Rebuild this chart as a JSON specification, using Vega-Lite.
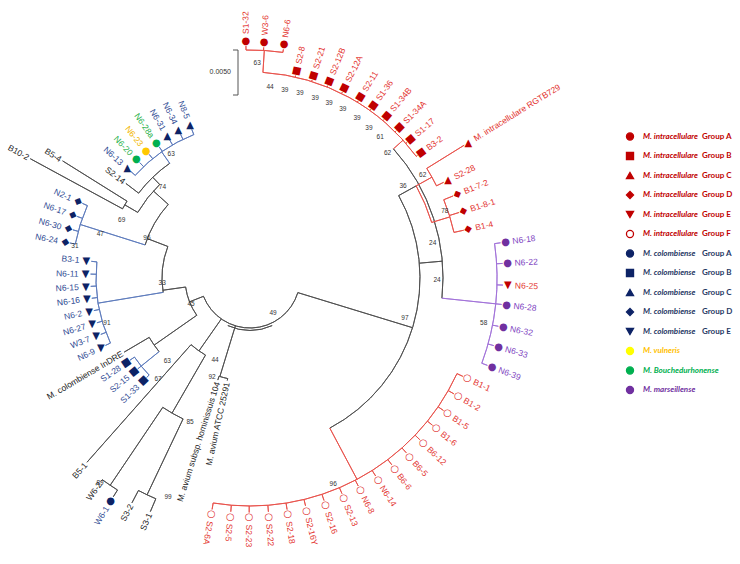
{
"$schema":"https://vega.github.io/schema/vega-lite/v6.json",
"width":740,"height":564,
"autosize":{"type":"none"},
"padding":0,
"background":"white",
"config":{"view":{"stroke":null}},
"datasets":{
"edges":[
{"t1":-1,"t2":8.3,"r1":228,"r2":228,"c":"red"},
{"t1":3.6,"t2":3.6,"r1":206,"r2":228,"c":"red"},
{"t1":3.6,"t2":53.8,"r1":206,"r2":206,"c":"red"},
{"t1":48,"t2":48,"r1":193,"r2":206,"c":"red"},
{"t1":48,"t2":96,"r1":193,"r2":193,"c":"k"},
{"t1":85,"t2":85,"r1":170,"r2":193,"c":"k"},
{"t1":96,"t2":96,"r1":193,"r2":247,"c":"purple"},
{"t1":82,"t2":110.2,"r1":247,"r2":247,"c":"purple"},
{"t1":61,"t2":152,"r1":170,"r2":170,"c":"k"},
{"t1":61,"t2":61,"r1":170,"r2":190,"c":"k"},
{"t1":61,"t2":73,"r1":190,"r2":190,"c":"red"},
{"t1":61,"t2":61,"r1":190,"r2":208,"c":"red"},
{"t1":58.2,"t2":63.7,"r1":208,"r2":208,"c":"red"},
{"t1":73,"t2":73,"r1":190,"r2":209,"c":"red"},
{"t1":68,"t2":77.4,"r1":209,"r2":209,"c":"red"},
{"t1":107,"t2":107,"r1":50,"r2":170,"c":"k"},
{"t1":152,"t2":152,"r1":170,"r2":228,"c":"red"},
{"t1":114.8,"t2":189.3,"r1":228,"r2":228,"c":"red"},
{"t1":107,"t2":248.5,"r1":50,"r2":50,"c":"k"},
{"t1":155,"t2":205,"r1":52.5,"r2":52.5,"c":"k"},
{"t1":197,"t2":197,"r1":50,"r2":103,"c":"k"},
{"t1":192.5,"t2":197.5,"r1":103,"r2":103,"c":"k"},
{"t1":215,"t2":215,"r1":50,"r2":89,"c":"k"},
{"t1":210,"t2":221.5,"r1":89,"r2":89,"c":"k"},
{"t1":210,"t2":210,"r1":89,"r2":156,"c":"k"},
{"t1":205.4,"t2":214,"r1":156,"r2":156,"c":"k"},
{"t1":205.4,"t2":205.4,"r1":156,"r2":240,"c":"k"},
{"t1":203.1,"t2":207.7,"r1":240,"r2":240,"c":"k"},
{"t1":214,"t2":214,"r1":156,"r2":250,"c":"k"},
{"t1":212,"t2":216.2,"r1":250,"r2":250,"c":"k"},
{"t1":248.5,"t2":248.5,"r1":50,"r2":65,"c":"k"},
{"t1":235,"t2":262,"r1":65,"r2":65,"c":"k"},
{"t1":235,"t2":235,"r1":65,"r2":117,"c":"k"},
{"t1":231,"t2":239.5,"r1":117,"r2":117,"c":"k"},
{"t1":231,"t2":231,"r1":117,"r2":140,"c":"blue"},
{"t1":226.1,"t2":235.6,"r1":140,"r2":140,"c":"blue"},
{"t1":262,"t2":262,"r1":65,"r2":88,"c":"k"},
{"t1":260.6,"t2":291,"r1":88,"r2":88,"c":"k"},
{"t1":260.6,"t2":260.6,"r1":88,"r2":154,"c":"blue"},
{"t1":245,"t2":276,"r1":154,"r2":154,"c":"blue"},
{"t1":291,"t2":291,"r1":88,"r2":110,"c":"k"},
{"t1":287.5,"t2":312,"r1":110,"r2":110,"c":"k"},
{"t1":287.5,"t2":287.5,"r1":110,"r2":178,"c":"blue"},
{"t1":281,"t2":294,"r1":178,"r2":178,"c":"blue"},
{"t1":312,"t2":312,"r1":110,"r2":130,"c":"k"},
{"t1":300.3,"t2":316,"r1":130,"r2":130,"c":"k"},
{"t1":300.3,"t2":300.3,"r1":130,"r2":145,"c":"k"},
{"t1":298.5,"t2":302,"r1":145,"r2":145,"c":"k"},
{"t1":316,"t2":316,"r1":130,"r2":140,"c":"k"},
{"t1":307.3,"t2":325,"r1":140,"r2":140,"c":"k"},
{"t1":325,"t2":325,"r1":140,"r2":154,"c":"blue"},
{"t1":311.8,"t2":338.6,"r1":154,"r2":154,"c":"blue"}
],
"tips":[
{"n":"S1-32","t":-1,"r":232,"pr":228,"sp":"intra","g":"iA","lc":"red"},
{"n":"W3-6","t":3.4,"r":231,"pr":228,"sp":"intra","g":"iA","lc":"red"},
{"n":"N6-6","t":8.3,"r":231,"pr":228,"sp":"intra","g":"iA","lc":"red"},
{"n":"S2-8","t":12.7,"r":207.5,"pr":206,"sp":"intra","g":"iB","lc":"red"},
{"n":"S2-21","t":17.4,"r":207.5,"pr":206,"sp":"intra","g":"iB","lc":"red"},
{"n":"S2-12B","t":22.0,"r":207.5,"pr":206,"sp":"intra","g":"iB","lc":"red"},
{"n":"S2-12A","t":26.4,"r":207.5,"pr":206,"sp":"intra","g":"iB","lc":"red"},
{"n":"S2-11","t":31.4,"r":207.5,"pr":206,"sp":"intra","g":"iB","lc":"red"},
{"n":"S1-36","t":35.6,"r":207.5,"pr":206,"sp":"intra","g":"iB","lc":"red"},
{"n":"S1-34B","t":40.2,"r":207.5,"pr":206,"sp":"intra","g":"iB","lc":"red"},
{"n":"S1-34A","t":44.8,"r":207.5,"pr":206,"sp":"intra","g":"iB","lc":"red"},
{"n":"S1-17","t":49.2,"r":207.5,"pr":206,"sp":"intra","g":"iB","lc":"red"},
{"n":"B3-2","t":53.8,"r":207.5,"pr":206,"sp":"intra","g":"iB","lc":"red"},
{"n":"M. intracellulare RGTB729","t":58.2,"r":252,"pr":208,"sp":"intra","g":"iC","lc":"red"},
{"n":"S2-28","t":63.7,"r":216,"pr":208,"sp":"intra","g":"iC","lc":"red"},
{"n":"B1-7-2","t":68.0,"r":219,"pr":209,"sp":"intra","g":"iD","lc":"red"},
{"n":"B1-8-1","t":72.6,"r":219,"pr":209,"sp":"intra","g":"iD","lc":"red"},
{"n":"B1-4","t":77.4,"r":219,"pr":209,"sp":"intra","g":"iD","lc":"red"},
{"n":"N6-18","t":82.0,"r":253,"pr":247,"sp":"mars","g":"mar","lc":"purple"},
{"n":"N6-22","t":86.7,"r":253,"pr":247,"sp":"mars","g":"mar","lc":"purple"},
{"n":"N6-25","t":91.6,"r":253,"pr":247,"sp":"intra","g":"iE","lc":"purple"},
{"n":"N6-28","t":96.0,"r":253,"pr":247,"sp":"mars","g":"mar","lc":"purple"},
{"n":"N6-32","t":101.0,"r":253,"pr":247,"sp":"mars","g":"mar","lc":"purple"},
{"n":"N6-33","t":105.5,"r":253,"pr":247,"sp":"mars","g":"mar","lc":"purple"},
{"n":"N6-39","t":110.2,"r":253,"pr":247,"sp":"mars","g":"mar","lc":"purple"},
{"n":"B1-1","t":114.8,"r":234.5,"pr":228,"sp":"intra","g":"iF","lc":"red"},
{"n":"B1-2","t":119.6,"r":234.5,"pr":228,"sp":"intra","g":"iF","lc":"red"},
{"n":"B1-5","t":124.4,"r":234.5,"pr":228,"sp":"intra","g":"iF","lc":"red"},
{"n":"B1-6","t":128.9,"r":234.5,"pr":228,"sp":"intra","g":"iF","lc":"red"},
{"n":"B6-12","t":133.6,"r":234.5,"pr":228,"sp":"intra","g":"iF","lc":"red"},
{"n":"B6-5","t":138.2,"r":234.5,"pr":228,"sp":"intra","g":"iF","lc":"red"},
{"n":"B6-6","t":142.8,"r":234.5,"pr":228,"sp":"intra","g":"iF","lc":"red"},
{"n":"N6-14","t":147.6,"r":234.5,"pr":228,"sp":"intra","g":"iF","lc":"red"},
{"n":"N6-8","t":152.5,"r":234.5,"pr":228,"sp":"intra","g":"iF","lc":"red"},
{"n":"S2-13","t":156.9,"r":234.5,"pr":228,"sp":"intra","g":"iF","lc":"red"},
{"n":"S2-16","t":161.6,"r":234.5,"pr":228,"sp":"intra","g":"iF","lc":"red"},
{"n":"S2-16Y","t":166.3,"r":234.5,"pr":228,"sp":"intra","g":"iF","lc":"red"},
{"n":"S2-18","t":170.9,"r":234.5,"pr":228,"sp":"intra","g":"iF","lc":"red"},
{"n":"S2-22","t":175.5,"r":234.5,"pr":228,"sp":"intra","g":"iF","lc":"red"},
{"n":"S2-23","t":180.2,"r":234.5,"pr":228,"sp":"intra","g":"iF","lc":"red"},
{"n":"S2-5","t":184.7,"r":234.5,"pr":228,"sp":"intra","g":"iF","lc":"red"},
{"n":"S2-6A","t":189.3,"r":234.5,"pr":228,"sp":"intra","g":"iF","lc":"red"},
{"n":"M. avium ATCC 25291","t":192.5,"r":105,"pr":103,"sp":"ref","g":"none","lc":"k"},
{"n":"M. avium subsp. hominissuis 104","t":197.5,"r":107,"pr":103,"sp":"ref","g":"none","lc":"k"},
{"n":"S3-1","t":203.1,"r":254,"pr":240,"sp":"ref","g":"none","lc":"k"},
{"n":"S3-2","t":207.7,"r":254,"pr":240,"sp":"ref","g":"none","lc":"k"},
{"n":"W6-1","t":212,"r":258,"pr":250,"sp":"colo","g":"cA","lc":"k"},
{"n":"W6-2","t":216.2,"r":252,"pr":250,"sp":"ref","g":"none","lc":"k"},
{"n":"B5-1","t":221.5,"r":246,"pr":89,"sp":"ref","g":"none","lc":"k"},
{"n":"S1-33","t":226.1,"r":143.5,"pr":140,"sp":"colo","g":"cB","lc":"blue"},
{"n":"S2-15","t":231.0,"r":144.5,"pr":140,"sp":"colo","g":"cB","lc":"blue"},
{"n":"S1-28","t":235.6,"r":145.5,"pr":140,"sp":"colo","g":"cB","lc":"blue"},
{"n":"M. colombiense InDRE","t":239.5,"r":146,"pr":117,"sp":"ref","g":"none","lc":"k"},
{"n":"N6-9","t":245.0,"r":159.5,"pr":154,"sp":"colo","g":"cE","lc":"blue"},
{"n":"W3-7","t":249.3,"r":159.5,"pr":154,"sp":"colo","g":"cE","lc":"blue"},
{"n":"N6-27","t":253.7,"r":159.5,"pr":154,"sp":"colo","g":"cE","lc":"blue"},
{"n":"N6-2","t":258.2,"r":159.5,"pr":154,"sp":"colo","g":"cE","lc":"blue"},
{"n":"N6-16","t":262.7,"r":159.5,"pr":154,"sp":"colo","g":"cE","lc":"blue"},
{"n":"N6-15","t":267.0,"r":159.5,"pr":154,"sp":"colo","g":"cE","lc":"blue"},
{"n":"N6-11","t":271.4,"r":159.5,"pr":154,"sp":"colo","g":"cE","lc":"blue"},
{"n":"B3-1","t":276.0,"r":159.5,"pr":154,"sp":"colo","g":"cE","lc":"blue"},
{"n":"N6-24","t":281.0,"r":183.5,"pr":178,"sp":"colo","g":"cD","lc":"blue"},
{"n":"N6-30","t":285.2,"r":183.5,"pr":178,"sp":"colo","g":"cD","lc":"blue"},
{"n":"N6-17","t":289.6,"r":183.5,"pr":178,"sp":"colo","g":"cD","lc":"blue"},
{"n":"N2-1","t":294.0,"r":183.5,"pr":178,"sp":"colo","g":"cD","lc":"blue"},
{"n":"B10-2","t":298.5,"r":250,"pr":145,"sp":"ref","g":"none","lc":"k"},
{"n":"B5-4","t":302,"r":221,"pr":145,"sp":"ref","g":"none","lc":"k"},
{"n":"S2-14","t":307.3,"r":156,"pr":140,"sp":"ref","g":"none","lc":"k"},
{"n":"N6-13","t":311.8,"r":159.5,"pr":154,"sp":"colo","g":"cC","lc":"blue"},
{"n":"N6-20","t":316.3,"r":159.5,"pr":154,"sp":"bou","g":"bou","lc":"blue"},
{"n":"N6-23","t":320.8,"r":159.5,"pr":154,"sp":"vul","g":"vul","lc":"blue"},
{"n":"N6-28a","t":325.3,"r":159.5,"pr":154,"sp":"bou","g":"bou","lc":"blue"},
{"n":"N6-31","t":329.8,"r":159.5,"pr":154,"sp":"colo","g":"cC","lc":"blue"},
{"n":"N6-34","t":334.2,"r":159.5,"pr":154,"sp":"colo","g":"cC","lc":"blue"},
{"n":"N8-5","t":338.6,"r":159.5,"pr":154,"sp":"colo","g":"cC","lc":"blue"}
],
"boot":[
{"v":"63","t":1.9,"r":215},{"v":"44","t":6,"r":192},{"v":"39","t":10.5,"r":191},{"v":"39","t":15.1,"r":191.5},
{"v":"39","t":19.9,"r":191.5},{"v":"39","t":24.3,"r":192},{"v":"39","t":28.8,"r":192.5},{"v":"39","t":33.8,"r":192.5},
{"v":"39","t":38.4,"r":191.5},{"v":"61","t":42.7,"r":192},{"v":"62","t":47.7,"r":186},{"v":"62","t":59.2,"r":201},
{"v":"36","t":59.0,"r":178.5},{"v":"78","t":71.0,"r":206},{"v":"24","t":79.2,"r":186},{"v":"24","t":90.6,"r":187},
{"v":"58","t":101,"r":238},{"v":"97","t":104.5,"r":160},{"v":"96","t":158,"r":222},{"v":"49","t":146.7,"r":42},
{"v":"99","t":200.5,"r":234},{"v":"85","t":202.6,"r":156},{"v":"44","t":203.1,"r":89},{"v":"92","t":201,"r":106},
{"v":"89","t":216.2,"r":254},{"v":"63","t":225,"r":117},{"v":"67","t":222.3,"r":136.6},{"v":"45","t":246.2,"r":64.5},
{"v":"33","t":266.7,"r":88},{"v":"91","t":252.5,"r":150},{"v":"96","t":291.2,"r":110.5},{"v":"47","t":286.3,"r":156},
{"v":"31","t":280.4,"r":178},{"v":"69","t":294.5,"r":141},{"v":"74","t":316,"r":126},
{"v":"63","t":327.6,"r":147}
],
"legend":[
{"k":0,"nm":"M. intracellulare","gp":"Group A","g":"iA"},
{"k":1,"nm":"M. intracellulare","gp":"Group B","g":"iB"},
{"k":2,"nm":"M. intracellulare","gp":"Group C","g":"iC"},
{"k":3,"nm":"M. intracellulare","gp":"Group D","g":"iD"},
{"k":4,"nm":"M. intracellulare","gp":"Group E","g":"iE"},
{"k":5,"nm":"M. intracellulare","gp":"Group F","g":"iF"},
{"k":6,"nm":"M. colombiense","gp":"Group A","g":"cA"},
{"k":7,"nm":"M. colombiense","gp":"Group B","g":"cB"},
{"k":8,"nm":"M. colombiense","gp":"Group C","g":"cC"},
{"k":9,"nm":"M. colombiense","gp":"Group D","g":"cD"},
{"k":10,"nm":"M. colombiense","gp":"Group E","g":"cE"},
{"k":11,"nm":"M. vulneris","gp":"","g":"vul"},
{"k":12,"nm":"M. Bouchedurhonense","gp":"","g":"bou"},
{"k":13,"nm":"M. marseillense","gp":"","g":"mar"}
]
},
"layer":[
{
"resolve":{"scale":{"color":"independent","angle":"independent"}},
"layer":[
{"data":{"name":"edges"},
 "mark":{"type":"arc","filled":false,"strokeWidth":0.9},
 "encoding":{
  "x":{"datum":250,"type":"quantitative","scale":{"domain":[0,740],"nice":false,"zero":false},"axis":null},
  "y":{"datum":278,"type":"quantitative","scale":{"domain":[0,564],"nice":false,"zero":false,"reverse":true},"axis":null},
  "theta":{"field":"t1","type":"quantitative","stack":null,"scale":{"domain":[0,360],"range":[0,6.283185307],"zero":false,"nice":false}},
  "theta2":{"field":"t2"},
  "radius":{"field":"r1","type":"quantitative","scale":{"type":"linear","domain":[0,300],"range":[0,300],"zero":false,"nice":false}},
  "radius2":{"field":"r2"},
  "color":{"field":"c","type":"nominal","scale":{"domain":["k","red","blue","purple"],"range":["#4d4d4d","#e8504a","#5b79bb","#a070d8"]},"legend":null}
 }},
{"data":{"name":"tips"},
 "mark":{"type":"arc","filled":false,"strokeWidth":0.9},
 "encoding":{
  "x":{"datum":250,"type":"quantitative","axis":null},
  "y":{"datum":278,"type":"quantitative","axis":null},
  "theta":{"field":"t","type":"quantitative","stack":null},
  "theta2":{"field":"t"},
  "radius":{"field":"pr","type":"quantitative"},
  "radius2":{"field":"r"},
  "color":{"field":"lc","type":"nominal","scale":{"domain":["k","red","blue","purple"],"range":["#4d4d4d","#e8504a","#5b79bb","#a070d8"]},"legend":null}
 }},
{"data":{"name":"boot"},
 "mark":{"type":"text","font":"Liberation Sans","fontSize":6.5,"align":"center","baseline":"middle","color":"#333333"},
 "encoding":{
  "x":{"datum":250,"type":"quantitative","axis":null},
  "y":{"datum":278,"type":"quantitative","axis":null},
  "theta":{"field":"t","type":"quantitative","stack":null},
  "radius":{"field":"r","type":"quantitative"},
  "text":{"field":"v"}
 }},
{"data":{"name":"tips"},
 "transform":[{"filter":{"field":"g","oneOf":["iA","cA","vul","bou","mar"]}}],
 "mark":{"type":"text","font":"DejaVu Sans","fontSize":10,"align":"center","baseline":"middle","radiusOffset":5},
 "encoding":{
  "x":{"datum":250,"type":"quantitative","axis":null},
  "y":{"datum":278,"type":"quantitative","axis":null},
  "theta":{"field":"t","type":"quantitative","stack":null},
  "radius":{"field":"r","type":"quantitative"},
  "text":{"value":"●"},
  "color":{"field":"g","type":"nominal","scale":{"domain":["iA","cA","vul","bou","mar"],"range":["#c00000","#0d2366","#ffc800","#00b050","#7030a0"]},"legend":null}
 }},
{"data":{"name":"tips"},
 "transform":[{"filter":{"field":"g","oneOf":["iF"]}}],
 "mark":{"type":"text","font":"DejaVu Sans","fontSize":10,"align":"center","baseline":"middle","radiusOffset":5},
 "encoding":{
  "x":{"datum":250,"type":"quantitative","axis":null},
  "y":{"datum":278,"type":"quantitative","axis":null},
  "theta":{"field":"t","type":"quantitative","stack":null},
  "radius":{"field":"r","type":"quantitative"},
  "text":{"value":"○"},
  "color":{"field":"g","type":"nominal","scale":{"domain":["iF"],"range":["#e03030"]},"legend":null}
 }},
{"data":{"name":"tips"},
 "transform":[{"filter":{"field":"g","oneOf":["iC","cC"]}}],
 "mark":{"type":"text","font":"DejaVu Sans","fontSize":10,"align":"center","baseline":"middle","radiusOffset":5},
 "encoding":{
  "x":{"datum":250,"type":"quantitative","axis":null},
  "y":{"datum":278,"type":"quantitative","axis":null},
  "theta":{"field":"t","type":"quantitative","stack":null},
  "radius":{"field":"r","type":"quantitative"},
  "text":{"value":"▲"},
  "color":{"field":"g","type":"nominal","scale":{"domain":["iC","cC"],"range":["#c00000","#0d2366"]},"legend":null}
 }},
{"data":{"name":"tips"},
 "transform":[{"filter":{"field":"g","oneOf":["iE","cE"]}}],
 "mark":{"type":"text","font":"DejaVu Sans","fontSize":10,"align":"center","baseline":"middle","radiusOffset":5},
 "encoding":{
  "x":{"datum":250,"type":"quantitative","axis":null},
  "y":{"datum":278,"type":"quantitative","axis":null},
  "theta":{"field":"t","type":"quantitative","stack":null},
  "radius":{"field":"r","type":"quantitative"},
  "text":{"value":"▼"},
  "color":{"field":"g","type":"nominal","scale":{"domain":["iE","cE"],"range":["#c00000","#0d2366"]},"legend":null}
 }},
{"data":{"name":"tips"},
 "transform":[{"filter":{"field":"g","oneOf":["iB","cB"]}}],
 "mark":{"type":"text","font":"DejaVu Sans","fontSize":10,"align":"center","baseline":"middle","radiusOffset":5},
 "encoding":{
  "x":{"datum":250,"type":"quantitative","axis":null},
  "y":{"datum":278,"type":"quantitative","axis":null},
  "theta":{"field":"t","type":"quantitative","stack":null},
  "radius":{"field":"r","type":"quantitative"},
  "text":{"value":"■"},
  "angle":{"field":"t","type":"quantitative","scale":{"domain":[0,360],"range":[0,360]}},
  "color":{"field":"g","type":"nominal","scale":{"domain":["iB","cB"],"range":["#c00000","#0d2366"]},"legend":null}
 }},
{"data":{"name":"tips"},
 "transform":[{"filter":{"field":"g","oneOf":["iD","cD"]}}],
 "mark":{"type":"text","font":"DejaVu Sans","fontSize":10,"align":"center","baseline":"middle","radiusOffset":5},
 "encoding":{
  "x":{"datum":250,"type":"quantitative","axis":null},
  "y":{"datum":278,"type":"quantitative","axis":null},
  "theta":{"field":"t","type":"quantitative","stack":null},
  "radius":{"field":"r","type":"quantitative"},
  "text":{"value":"◆"},
  "angle":{"field":"t","type":"quantitative","scale":{"domain":[0,360],"range":[0,360]}},
  "color":{"field":"g","type":"nominal","scale":{"domain":["iD","cD"],"range":["#c00000","#0d2366"]},"legend":null}
 }},
{"data":{"name":"tips"},
 "transform":[{"filter":"datum.t < 191 && datum.g != 'none'"}],
 "mark":{"type":"text","font":"Liberation Sans","fontSize":8.5,"align":"left","baseline":"middle","radiusOffset":12},
 "encoding":{
  "x":{"datum":250,"type":"quantitative","axis":null},
  "y":{"datum":278,"type":"quantitative","axis":null},
  "theta":{"field":"t","type":"quantitative","stack":null},
  "radius":{"field":"r","type":"quantitative"},
  "text":{"field":"n"},
  "angle":{"field":"t","type":"quantitative","scale":{"domain":[0,180],"range":[-90,90]}},
  "color":{"field":"sp","type":"nominal","scale":{"domain":["intra","colo","mars","vul","bou","ref"],"range":["#e3342f","#2f4b93","#7e44bf","#f2b705","#1fb14a","#222222"]},"legend":null}
 }},
{"data":{"name":"tips"},
 "transform":[{"filter":"datum.t >= 191 && datum.g != 'none'"}],
 "mark":{"type":"text","font":"Liberation Sans","fontSize":8.5,"align":"right","baseline":"middle","radiusOffset":12},
 "encoding":{
  "x":{"datum":250,"type":"quantitative","axis":null},
  "y":{"datum":278,"type":"quantitative","axis":null},
  "theta":{"field":"t","type":"quantitative","stack":null},
  "radius":{"field":"r","type":"quantitative"},
  "text":{"field":"n"},
  "angle":{"field":"t","type":"quantitative","scale":{"domain":[180,360],"range":[-90,90]}},
  "color":{"field":"sp","type":"nominal","scale":{"domain":["intra","colo","mars","vul","bou","ref"],"range":["#e3342f","#2f4b93","#7e44bf","#f2b705","#1fb14a","#222222"]},"legend":null}
 }},
{"data":{"name":"tips"},
 "transform":[{"filter":"datum.t >= 191 && datum.g == 'none'"}],
 "mark":{"type":"text","font":"Liberation Sans","fontSize":8.5,"align":"right","baseline":"middle","radiusOffset":2},
 "encoding":{
  "x":{"datum":250,"type":"quantitative","axis":null},
  "y":{"datum":278,"type":"quantitative","axis":null},
  "theta":{"field":"t","type":"quantitative","stack":null},
  "radius":{"field":"r","type":"quantitative"},
  "text":{"field":"n"},
  "angle":{"field":"t","type":"quantitative","scale":{"domain":[180,360],"range":[-90,90]}},
  "color":{"field":"sp","type":"nominal","scale":{"domain":["intra","colo","mars","vul","bou","ref"],"range":["#e3342f","#2f4b93","#7e44bf","#f2b705","#1fb14a","#222222"]},"legend":null}
 }},
{"data":{"values":[{"lab":"0.0050"}]},
 "mark":{"type":"rule","color":"#555555","strokeWidth":1},
 "encoding":{
  "x":{"datum":238,"type":"quantitative","axis":null},
  "y":{"datum":50,"type":"quantitative","axis":null},
  "y2":{"datum":95}
 }},
{"data":{"values":[{"lab":"0.0050"}]},
 "mark":{"type":"rule","color":"#555555","strokeWidth":1},
 "encoding":{
  "x":{"datum":233,"type":"quantitative","axis":null},
  "x2":{"datum":238},
  "y":{"datum":50,"type":"quantitative","axis":null}
 }},
{"data":{"values":[{"lab":"0.0050"}]},
 "mark":{"type":"rule","color":"#555555","strokeWidth":1},
 "encoding":{
  "x":{"datum":233,"type":"quantitative","axis":null},
  "x2":{"datum":238},
  "y":{"datum":95,"type":"quantitative","axis":null}
 }},
{"data":{"values":[{"lab":"0.0050"}]},
 "mark":{"type":"text","font":"Liberation Sans","fontSize":7,"align":"right","baseline":"middle","color":"#333333"},
 "encoding":{
  "x":{"datum":231,"type":"quantitative","axis":null},
  "y":{"datum":72,"type":"quantitative","axis":null},
  "text":{"field":"lab"}
 }}
]
},
{
"data":{"name":"legend"},
"layer":[
{"mark":{"type":"point","filled":true,"size":50,"strokeWidth":1.3,"opacity":1},
 "encoding":{
  "x":{"datum":630,"type":"quantitative","scale":{"domain":[0,740],"nice":false,"zero":false},"axis":null},
  "y":{"field":"k","type":"quantitative","scale":{"domain":[-7,21.923],"nice":false,"zero":false,"reverse":true},"axis":null},
  "shape":{"field":"g","type":"nominal","scale":{"domain":["iA","iB","iC","iD","iE","iF","cA","cB","cC","cD","cE","vul","bou","mar"],"range":["circle","square","triangle-up","diamond","triangle-down","circle","circle","square","triangle-up","diamond","triangle-down","circle","circle","circle"]},"legend":null},
  "fill":{"field":"g","type":"nominal","scale":{"domain":["iA","iB","iC","iD","iE","iF","cA","cB","cC","cD","cE","vul","bou","mar"],"range":["#c00000","#c00000","#c00000","#c00000","#c00000","#ffffff","#0d2366","#0d2366","#0d2366","#0d2366","#0d2366","#ffff00","#00b050","#7030a0"]},"legend":null},
  "stroke":{"field":"g","type":"nominal","scale":{"domain":["iA","iB","iC","iD","iE","iF","cA","cB","cC","cD","cE","vul","bou","mar"],"range":["#c00000","#c00000","#c00000","#c00000","#c00000","#c00000","#0d2366","#0d2366","#0d2366","#0d2366","#0d2366","#ffff00","#00b050","#7030a0"]},"legend":null}
 }},
{"mark":{"type":"text","font":"Lato","fontSize":8,"fontWeight":"bold","fontStyle":"italic","align":"left","baseline":"middle"},
 "encoding":{
  "x":{"datum":643,"type":"quantitative","axis":null},
  "y":{"field":"k","type":"quantitative","axis":null},
  "text":{"field":"nm"},
  "color":{"field":"g","type":"nominal","scale":{"domain":["iA","iB","iC","iD","iE","iF","cA","cB","cC","cD","cE","vul","bou","mar"],"range":["#c00000","#c00000","#c00000","#c00000","#c00000","#c00000","#1f3864","#1f3864","#1f3864","#1f3864","#1f3864","#ffc000","#00b050","#7030a0"]},"legend":null}
 }},
{"mark":{"type":"text","font":"Lato","fontSize":8,"fontWeight":"bold","align":"left","baseline":"middle"},
 "encoding":{
  "x":{"datum":702,"type":"quantitative","axis":null},
  "y":{"field":"k","type":"quantitative","axis":null},
  "text":{"field":"gp"},
  "color":{"field":"g","type":"nominal","scale":{"domain":["iA","iB","iC","iD","iE","iF","cA","cB","cC","cD","cE","vul","bou","mar"],"range":["#c00000","#c00000","#c00000","#c00000","#c00000","#c00000","#1f3864","#1f3864","#1f3864","#1f3864","#1f3864","#ffc000","#00b050","#7030a0"]},"legend":null}
 }}
]
}
],
"resolve":{"scale":{"y":"independent","color":"independent"}}
}
